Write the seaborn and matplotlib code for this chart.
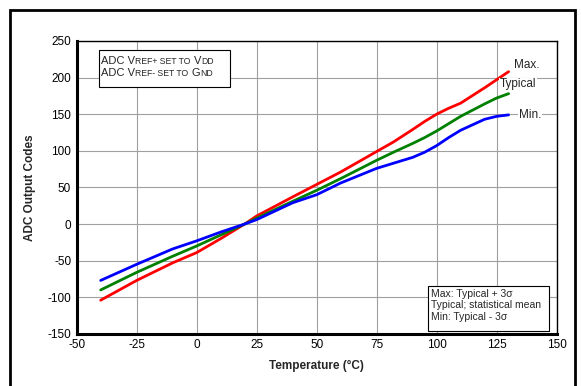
import pandas as pd
import matplotlib
matplotlib.use('Agg')
import matplotlib.pyplot as plt
from matplotlib.patches import Rectangle
import seaborn as sns

# ------------ data ---------------------------------
temps = [-40, -25, -10, 0, 10, 20, 25, 40, 50, 60, 75, 82, 90, 95, 100, 105, 110, 120, 125, 130]
max_codes = [-104, -77, -53, -39, -20, 0, 11, 37, 54, 71, 99, 112, 129, 140, 150, 158, 165, 186, 197, 208]
typ_codes = [-90, -66, -44, -30, -15, 0, 8, 31, 46, 62, 87, 98, 110, 118, 127, 137, 147, 164, 172, 178]
min_codes = [-77, -55, -34, -23, -11, 0, 6, 29, 40, 56, 76, 83, 91, 98, 107, 118, 128, 143, 147, 149]

x_ticks = [-50, -25, 0, 25, 50, 75, 100, 125, 150]
y_ticks = [-150, -100, -50, 0, 50, 100, 150, 200, 250]

df = pd.DataFrame({
    'Temperature': temps * 3,
    'Codes': max_codes + typ_codes + min_codes,
    'Series': ['Max.'] * len(temps) + ['Typical'] * len(temps) + ['Min.'] * len(temps),
})

sns.set_style('white')
plt.rcParams['font.family'] = ['Liberation Sans', 'DejaVu Sans']
plt.rcParams['axes.unicode_minus'] = False

fig = plt.figure(figsize=(5.81, 3.86), dpi=100)
ax = fig.add_axes([0.132, 0.135, 0.826, 0.759])

sns.lineplot(data=df, x='Temperature', y='Codes', hue='Series',
             palette={'Max.': '#ff0000', 'Typical': '#008000', 'Min.': '#0000ff'},
             linewidth=2.0, legend=False, ax=ax, sort=False, estimator=None)

ax.set_xlim(-50, 150)
ax.set_ylim(-150, 250)
ax.set_xticks(x_ticks)
ax.set_yticks(y_ticks)
ax.grid(True, color='#a0a0a0', linewidth=0.8)
ax.set_axisbelow(True)
ax.tick_params(length=0, labelsize=8.5, pad=4, colors='black')

for side in ['top', 'right']:
    ax.spines[side].set_linewidth(1.0)
    ax.spines[side].set_color('black')
for side in ['left', 'bottom']:
    ax.spines[side].set_linewidth(2.2)
    ax.spines[side].set_color('black')

ax.set_xlabel('Temperature (°C)', fontsize=8.5, fontweight='bold', labelpad=6)
ax.set_ylabel('ADC Output Codes', fontsize=8.5, fontweight='bold', labelpad=8)

# series labels at the line ends
ax.text(137.6, 217.6, 'Max.', fontsize=8.5, ha='center', va='center')
ax.text(133.9, 190.5, 'Typical', fontsize=8.5, ha='center', va='center',
        bbox=dict(facecolor='white', edgecolor='none', pad=0.5))
ax.text(139, 148.6, 'Min.', fontsize=8.5, ha='center', va='center',
        bbox=dict(facecolor='white', edgecolor='none', pad=0.5))

# top-left note box (small caps imitation)
ax.add_patch(Rectangle((-40.9, 187.6), 54.6, 49.5, facecolor='white',
                       edgecolor='black', linewidth=0.8, zorder=3))

renderer = fig.canvas.get_renderer()


def small_caps_line(x, y, parts):
    # place pieces one after another on a shared baseline
    x_disp, y_disp = ax.transData.transform((x, y))
    for txt, size, gap in parts:
        t = ax.text(x_disp, y_disp, txt, fontsize=size, va='baseline', ha='left',
                    transform=None, zorder=4)
        x_disp += t.get_window_extent(renderer=renderer).width + gap


big, small = 8, 6.2
small_caps_line(-40.0, 219, [('ADC V', big, 0.5), ('REF+ SET TO', small, 3), ('V', big, 0.5), ('DD', small, 0)])
small_caps_line(-40.0, 201.5, [('ADC V', big, 0.5), ('REF- SET TO', small, 3), ('G', big, 0.5), ('ND', small, 0)])

# bottom-right note box
ax.add_patch(Rectangle((96.4, -145.9), 50.4, 61.7, facecolor='white',
                       edgecolor='black', linewidth=0.8, zorder=3))
ax.text(97.5, -89, 'Max: Typical + 3σ\nTypical; statistical mean\nMin: Typical - 3σ',
        fontsize=7.5, va='top', ha='left', linespacing=1.15, zorder=4)

# outer frame
fig.patches.append(Rectangle((10 / 581, -0.05), 565 / 581, 1 - 10 / 386 + 0.05,
                             transform=fig.transFigure, fill=False,
                             edgecolor='black', linewidth=2.0))

plt.savefig('out.png', dpi=100)
